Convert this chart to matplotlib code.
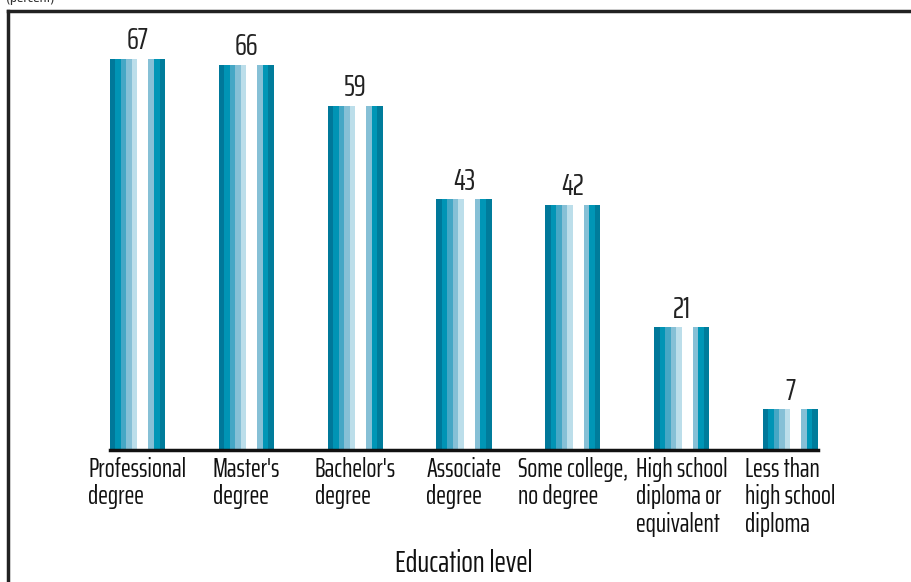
import matplotlib.pyplot as plt
from matplotlib.lines import Line2D

plt.rcParams['font.family'] = ['Saira ExtraCondensed', 'DejaVu Sans']

categories = ["Professional\ndegree", "Master's\ndegree", "Bachelor's\ndegree",
              "Associate\ndegree", "Some college,\nno degree",
              "High school\ndiploma or\nequivalent", "Less than\nhigh school\ndiploma"]
values = [67, 66, 59, 43, 42, 21, 7]

# vertical stripes across each bar, left to right
stripe_colors = ["#00789a", "#0094b5", "#45a7c5", "#86c0d6", "#bcdeea",
                 "#ffffff", "#ffffff", "#86c0d6", "#0096b6", "#007c9b"]

W, H = 911, 582
fig = plt.figure(figsize=(W / 100, H / 100), dpi=100)
ax = fig.add_axes([110 / W, 1 - 450 / H, (818 - 110) / W, (450 - 12) / H])

bar_w = 0.506
n = len(stripe_colors)
sw = bar_w / n
x = list(range(len(values)))
for k, c in enumerate(stripe_colors):
    offs = -bar_w / 2 + sw * (k + 0.5)
    ax.bar([xi + offs for xi in x], values, width=sw * 1.02, color=c,
           linewidth=0)

for xi, v in zip(x, values):
    ax.text(xi, v + 0.6, str(v), ha='center', va='bottom', fontsize=22,
            color='#222222')

ax.set_xlim(-bar_w / 2, len(values) - 1 + bar_w / 2)
ax.set_ylim(0, 438 / 5.836)
ax.set_xticks(x)
ax.set_xticklabels(categories, fontsize=19, multialignment='left',
                   linespacing=1.12, color='#111111')
ax.tick_params(axis='x', length=0, pad=5)
ax.set_yticks([])
for s in ['top', 'right', 'left']:
    ax.spines[s].set_visible(False)
ax.spines['bottom'].set_linewidth(2.5)
ax.spines['bottom'].set_color('#111111')
ax.set_xlabel("Education level", fontsize=22, color='#111111', labelpad=9)

# outer frame: top and left edges only
fig.add_artist(Line2D([8 / W, 1], [1 - 11 / H, 1 - 11 / H], color='#222222',
                      linewidth=2.5, transform=fig.transFigure))
fig.add_artist(Line2D([8 / W, 8 / W], [0, 1 - 11 / H], color='#222222',
                      linewidth=2.5, transform=fig.transFigure))
fig.text(6 / W, 1 + 3 / H, "(percent)", fontsize=13, va='center', ha='left',
         color='#333333')

fig.savefig("out.png", dpi=100)
